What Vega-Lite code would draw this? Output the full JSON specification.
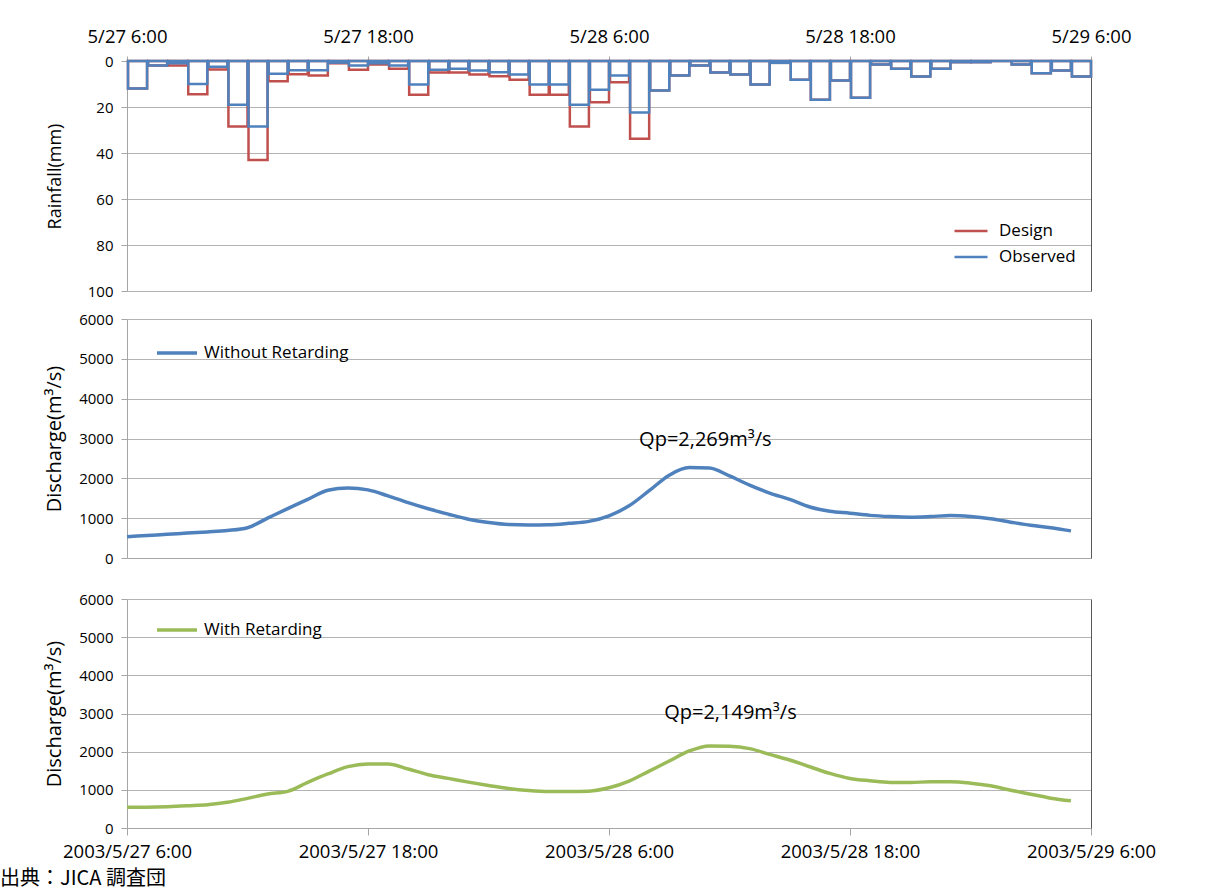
{
  "$schema": "https://vega.github.io/schema/vega-lite/v6.json",
  "background": "white",
  "padding": {"left": 0, "top": 27, "right": 10, "bottom": 0},
  "spacing": 13,
  "resolve": {"scale": {"stroke": "independent"}, "legend": {"stroke": "independent"}},
  "title": {"text": "出典：JICA 調査団", "orient": "bottom", "anchor": "start", "frame": "bounds", "font": "Noto Sans CJK JP", "fontSize": 20, "fontWeight": "normal", "color": "black", "dx": -44, "offset": 8},
  "config": {
    "font": "Open Sans",
    "view": {"stroke": null},
    "axis": {"labelColor": "black", "titleColor": "black", "titleFontWeight": "normal", "gridColor": "#B3B3B3", "gridWidth": 1, "domainColor": "#A6A6A6", "tickColor": "#A6A6A6", "domainWidth": 1},
    "legend": {"labelColor": "black", "labelFontSize": 17, "symbolType": "stroke"}
  },
  "datasets": {
    "hourly": [
      {"time": "2003/05/27 06:00", "Design": 12, "Observed": 12, "Without Retarding": 535, "With Retarding": 541},
      {"time": "2003/05/27 07:00", "Design": 2, "Observed": 2, "Without Retarding": 565, "With Retarding": 545},
      {"time": "2003/05/27 08:00", "Design": 2, "Observed": 1, "Without Retarding": 595, "With Retarding": 560},
      {"time": "2003/05/27 09:00", "Design": 14.5, "Observed": 10, "Without Retarding": 625, "With Retarding": 585},
      {"time": "2003/05/27 10:00", "Design": 3.7, "Observed": 2.5, "Without Retarding": 655, "With Retarding": 611},
      {"time": "2003/05/27 11:00", "Design": 28.5, "Observed": 19, "Without Retarding": 690, "With Retarding": 672},
      {"time": "2003/05/27 12:00", "Design": 43, "Observed": 28.5, "Without Retarding": 760, "With Retarding": 777},
      {"time": "2003/05/27 13:00", "Design": 8.8, "Observed": 5.5, "Without Retarding": 1000, "With Retarding": 891},
      {"time": "2003/05/27 14:00", "Design": 5.8, "Observed": 4, "Without Retarding": 1240, "With Retarding": 961},
      {"time": "2003/05/27 15:00", "Design": 6.3, "Observed": 4, "Without Retarding": 1470, "With Retarding": 1196},
      {"time": "2003/05/27 16:00", "Design": 1, "Observed": 0.7, "Without Retarding": 1700, "With Retarding": 1415},
      {"time": "2003/05/27 17:00", "Design": 3.8, "Observed": 2, "Without Retarding": 1760, "With Retarding": 1607},
      {"time": "2003/05/27 18:00", "Design": 1.5, "Observed": 1, "Without Retarding": 1710, "With Retarding": 1677},
      {"time": "2003/05/27 19:00", "Design": 3.4, "Observed": 2, "Without Retarding": 1560, "With Retarding": 1677},
      {"time": "2003/05/27 20:00", "Design": 14.7, "Observed": 10.2, "Without Retarding": 1390, "With Retarding": 1546},
      {"time": "2003/05/27 21:00", "Design": 5, "Observed": 3.8, "Without Retarding": 1235, "With Retarding": 1397},
      {"time": "2003/05/27 22:00", "Design": 5, "Observed": 3.4, "Without Retarding": 1100, "With Retarding": 1300},
      {"time": "2003/05/27 23:00", "Design": 5.9, "Observed": 4.1, "Without Retarding": 975, "With Retarding": 1202},
      {"time": "2003/05/28 00:00", "Design": 6.6, "Observed": 4.9, "Without Retarding": 892, "With Retarding": 1114},
      {"time": "2003/05/28 01:00", "Design": 8.2, "Observed": 5.9, "Without Retarding": 840, "With Retarding": 1035},
      {"time": "2003/05/28 02:00", "Design": 14.7, "Observed": 10.2, "Without Retarding": 830, "With Retarding": 982},
      {"time": "2003/05/28 03:00", "Design": 14.7, "Observed": 10.2, "Without Retarding": 835, "With Retarding": 956},
      {"time": "2003/05/28 04:00", "Design": 28.5, "Observed": 19, "Without Retarding": 870, "With Retarding": 956},
      {"time": "2003/05/28 05:00", "Design": 17.9, "Observed": 12.5, "Without Retarding": 920, "With Retarding": 965},
      {"time": "2003/05/28 06:00", "Design": 9.2, "Observed": 6.3, "Without Retarding": 1060, "With Retarding": 1053},
      {"time": "2003/05/28 07:00", "Design": 33.8, "Observed": 22.4, "Without Retarding": 1310, "With Retarding": 1228},
      {"time": "2003/05/28 08:00", "Design": 12.8, "Observed": 12.8, "Without Retarding": 1690, "With Retarding": 1491},
      {"time": "2003/05/28 09:00", "Design": 6.3, "Observed": 6.3, "Without Retarding": 2080, "With Retarding": 1754},
      {"time": "2003/05/28 10:00", "Design": 2, "Observed": 2, "Without Retarding": 2269, "With Retarding": 2018},
      {"time": "2003/05/28 11:00", "Design": 5, "Observed": 5, "Without Retarding": 2260, "With Retarding": 2149},
      {"time": "2003/05/28 12:00", "Design": 5.9, "Observed": 5.9, "Without Retarding": 2060, "With Retarding": 2140},
      {"time": "2003/05/28 13:00", "Design": 10.2, "Observed": 10.2, "Without Retarding": 1830, "With Retarding": 2079},
      {"time": "2003/05/28 14:00", "Design": 0.8, "Observed": 0.8, "Without Retarding": 1630, "With Retarding": 1930},
      {"time": "2003/05/28 15:00", "Design": 8.2, "Observed": 8.2, "Without Retarding": 1470, "With Retarding": 1781},
      {"time": "2003/05/28 16:00", "Design": 16.9, "Observed": 16.9, "Without Retarding": 1280, "With Retarding": 1605},
      {"time": "2003/05/28 17:00", "Design": 8.5, "Observed": 8.5, "Without Retarding": 1175, "With Retarding": 1430},
      {"time": "2003/05/28 18:00", "Design": 16, "Observed": 16, "Without Retarding": 1125, "With Retarding": 1298},
      {"time": "2003/05/28 19:00", "Design": 1.5, "Observed": 1.5, "Without Retarding": 1070, "With Retarding": 1237},
      {"time": "2003/05/28 20:00", "Design": 3.4, "Observed": 3.4, "Without Retarding": 1040, "With Retarding": 1193},
      {"time": "2003/05/28 21:00", "Design": 6.7, "Observed": 6.7, "Without Retarding": 1025, "With Retarding": 1193},
      {"time": "2003/05/28 22:00", "Design": 3.4, "Observed": 3.4, "Without Retarding": 1040, "With Retarding": 1211},
      {"time": "2003/05/28 23:00", "Design": 0.5, "Observed": 0.5, "Without Retarding": 1065, "With Retarding": 1211},
      {"time": "2003/05/29 00:00", "Design": 0.5, "Observed": 0.5, "Without Retarding": 1040, "With Retarding": 1175},
      {"time": "2003/05/29 01:00", "Design": 0, "Observed": 0, "Without Retarding": 985, "With Retarding": 1105},
      {"time": "2003/05/29 02:00", "Design": 1.5, "Observed": 1.5, "Without Retarding": 900, "With Retarding": 991},
      {"time": "2003/05/29 03:00", "Design": 5.3, "Observed": 5.3, "Without Retarding": 820, "With Retarding": 886},
      {"time": "2003/05/29 04:00", "Design": 4.1, "Observed": 4.1, "Without Retarding": 760, "With Retarding": 781},
      {"time": "2003/05/29 05:00", "Design": 6.7, "Observed": 6.7, "Without Retarding": 680, "With Retarding": 711}
    ],
    "peaks": [
      {"series": "Without Retarding", "time": "2003/05/28 10:00", "value": 2269, "label": "Qp=2,269m³/s"},
      {"series": "With Retarding", "time": "2003/05/28 11:00", "value": 2149, "label": "Qp=2,149m³/s"}
    ]
  },
  "vconcat": [
    {
      "width": 964,
      "height": 230,
      "data": {"name": "hourly"},
      "transform": [{"fold": ["Design", "Observed"], "as": ["series", "rain"]}],
      "encoding": {
        "x": {
          "field": "time", "type": "temporal", "timeUnit": "yearmonthdatehours",
          "scale": {"domain": [{"year": 2003, "month": 5, "date": 27, "hours": 6}, {"year": 2003, "month": 5, "date": 29, "hours": 6}]},
          "axis": {
            "orient": "top", "title": null, "grid": false, "format": "%-m/%-d %-H:%M",
            "values": [{"year": 2003, "month": 5, "date": 27, "hours": 6}, {"year": 2003, "month": 5, "date": 27, "hours": 18}, {"year": 2003, "month": 5, "date": 28, "hours": 6}, {"year": 2003, "month": 5, "date": 28, "hours": 18}, {"year": 2003, "month": 5, "date": 29, "hours": 6}],
            "labelFlush": false, "labelOverlap": false, "labelFontSize": 18.5, "labelPadding": 10, "tickSize": 5
          }
        },
        "stroke": {
          "field": "series", "type": "nominal",
          "scale": {"domain": ["Design", "Observed"], "range": ["#C0504D", "#4F81BD"]},
          "legend": {"title": null, "orient": "none", "legendX": 826, "legendY": 152, "symbolSize": 1089, "symbolStrokeWidth": 2.5, "labelFontSize": 17, "labelOffset": 10, "rowPadding": -2}
        }
      },
      "layer": [
        {
          "transform": [{"filter": "datum.series === 'Design'"}],
          "mark": {"type": "bar", "fill": "transparent", "strokeWidth": 2.5},
          "encoding": {
            "y": {
              "field": "rain", "type": "quantitative", "stack": null,
              "scale": {"domain": [0, 100], "reverse": true, "nice": false},
              "axis": {"orient": "left", "values": [0, 20, 40, 60, 80, 100], "title": "Rainfall(mm)", "titleFontSize": 18, "labelFontSize": 15, "tickSize": 6, "labelPadding": 8, "minExtent": 55, "titlePadding": 8}
            }
          }
        },
        {
          "transform": [{"filter": "datum.series === 'Observed'"}],
          "mark": {"type": "bar", "fill": "transparent", "strokeWidth": 2.5},
          "encoding": {
            "y": {
              "field": "rain", "type": "quantitative", "stack": null,
              "scale": {"domain": [0, 100], "reverse": true, "nice": false},
              "axis": {"orient": "right", "labels": false, "ticks": false, "grid": false, "title": null, "domainColor": "#595959"}
            }
          }
        }
      ],
      "resolve": {"axis": {"y": "independent"}}
    },
    {
      "width": 964,
      "height": 239,
      "encoding": {
        "x": {
          "field": "time", "type": "temporal",
          "scale": {"domain": [{"year": 2003, "month": 5, "date": 27, "hours": 6}, {"year": 2003, "month": 5, "date": 29, "hours": 6}]},
          "axis": {"labels": false, "ticks": false, "grid": false, "title": null, "minExtent": 21}
        }
      },
      "layer": [
        {
          "data": {"name": "hourly"},
          "mark": {"type": "line", "strokeWidth": 3.5, "interpolate": "monotone"},
          "encoding": {
            "y": {
              "field": "Without Retarding", "type": "quantitative",
              "scale": {"domain": [0, 6000], "nice": false},
              "axis": {"orient": "left", "values": [0, 1000, 2000, 3000, 4000, 5000, 6000], "format": "d", "title": "Discharge(m³/s)", "titleFontSize": 20, "labelFontSize": 15, "tickSize": 6, "labelPadding": 8, "minExtent": 55, "titlePadding": 8}
            },
            "stroke": {
              "datum": "Without Retarding", "type": "nominal",
              "scale": {"domain": ["Without Retarding"], "range": ["#4F81BD"]},
              "legend": {"title": null, "orient": "none", "legendX": 28, "legendY": 12, "symbolSize": 1600, "symbolStrokeWidth": 3.5, "labelFontSize": 17, "labelOffset": 5}
            }
          }
        },
        {
          "data": {"name": "peaks"},
          "transform": [{"filter": "datum.series === 'Without Retarding'"}],
          "mark": {"type": "text", "fontSize": 20, "dx": 16, "dy": -28, "color": "black"},
          "encoding": {
            "y": {
              "field": "value", "type": "quantitative",
              "scale": {"domain": [0, 6000], "nice": false},
              "axis": {"orient": "right", "labels": false, "ticks": false, "grid": false, "title": null, "domainColor": "#595959"}
            },
            "text": {"field": "label"}
          }
        }
      ],
      "resolve": {"axis": {"y": "independent"}}
    },
    {
      "width": 964,
      "height": 229,
      "encoding": {
        "x": {
          "field": "time", "type": "temporal",
          "scale": {"domain": [{"year": 2003, "month": 5, "date": 27, "hours": 6}, {"year": 2003, "month": 5, "date": 29, "hours": 6}]},
          "axis": {
            "title": null, "grid": false, "format": "%Y/%-m/%-d %-H:%M",
            "values": [{"year": 2003, "month": 5, "date": 27, "hours": 6}, {"year": 2003, "month": 5, "date": 27, "hours": 18}, {"year": 2003, "month": 5, "date": 28, "hours": 6}, {"year": 2003, "month": 5, "date": 28, "hours": 18}, {"year": 2003, "month": 5, "date": 29, "hours": 6}],
            "labelFlush": false, "labelOverlap": false, "labelFontSize": 18.5, "labelPadding": 7, "tickSize": 7
          }
        }
      },
      "layer": [
        {
          "data": {"name": "hourly"},
          "mark": {"type": "line", "strokeWidth": 3.5, "interpolate": "monotone"},
          "encoding": {
            "y": {
              "field": "With Retarding", "type": "quantitative",
              "scale": {"domain": [0, 6000], "nice": false},
              "axis": {"orient": "left", "values": [0, 1000, 2000, 3000, 4000, 5000, 6000], "format": "d", "title": "Discharge(m³/s)", "titleFontSize": 20, "labelFontSize": 15, "tickSize": 6, "labelPadding": 8, "minExtent": 55, "titlePadding": 8}
            },
            "stroke": {
              "datum": "With Retarding", "type": "nominal",
              "scale": {"domain": ["With Retarding"], "range": ["#9BBB59"]},
              "legend": {"title": null, "orient": "none", "legendX": 28, "legendY": 9, "symbolSize": 1600, "symbolStrokeWidth": 3.5, "labelFontSize": 17, "labelOffset": 5}
            }
          }
        },
        {
          "data": {"name": "peaks"},
          "transform": [{"filter": "datum.series === 'With Retarding'"}],
          "mark": {"type": "text", "fontSize": 20, "dx": 21, "dy": -33, "color": "black"},
          "encoding": {
            "y": {
              "field": "value", "type": "quantitative",
              "scale": {"domain": [0, 6000], "nice": false},
              "axis": {"orient": "right", "labels": false, "ticks": false, "grid": false, "title": null, "domainColor": "#595959"}
            },
            "text": {"field": "label"}
          }
        }
      ],
      "resolve": {"axis": {"y": "independent"}}
    }
  ]
}
